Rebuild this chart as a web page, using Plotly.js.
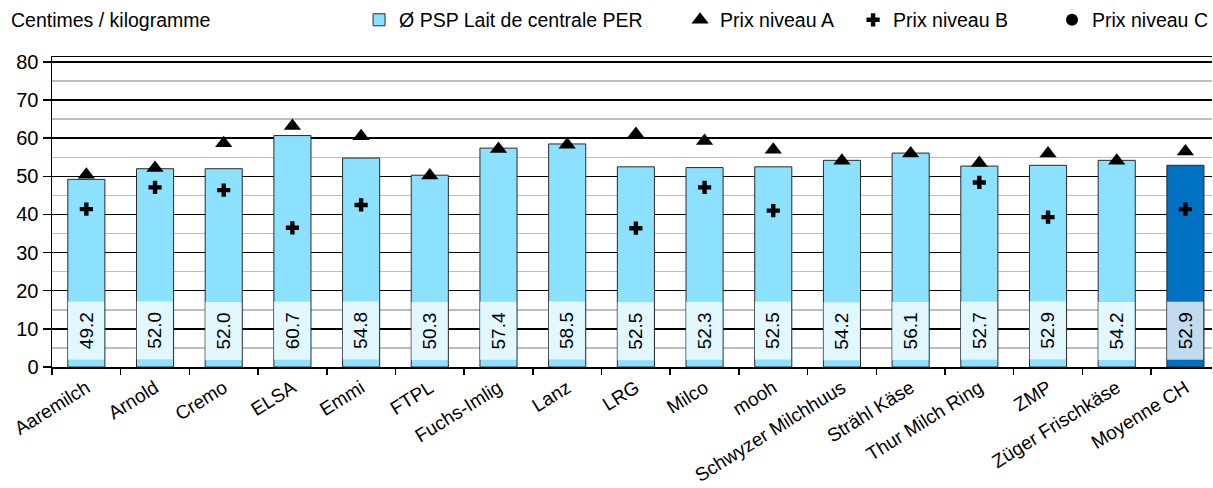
<!DOCTYPE html>
<html>
<head>
<meta charset="utf-8">
<script src="https://cdn.plot.ly/plotly-3.0.1.min.js"></script>
<style>html,body{margin:0;padding:0;background:#fff;}#chart{width:1213px;height:488px;}</style>
</head>
<body>
<div id="chart"></div>
<script>
const categories = ['Aaremilch','Arnold','Cremo','ELSA','Emmi','FTPL','Fuchs-Imlig','Lanz','LRG','Milco','mooh','Schwyzer Milchhuus','Strähl Käse','Thur Milch Ring','ZMP','Züger Frischkäse','Moyenne CH'];
const pspValues = [49.2,52.0,52.0,60.7,54.8,50.3,57.4,58.5,52.5,52.3,52.5,54.2,56.1,52.7,52.9,54.2,52.9];
const prixA = [50.4,52.2,58.7,63.2,60.5,50.2,57.2,58.3,61.1,59.3,57.0,54.1,56.0,53.5,56.0,54.1,56.5];
const prixB = [41.4,47.1,46.4,36.5,42.5,null,null,null,36.4,47.1,41.0,null,null,48.4,39.3,null,41.4];
const prixC = [null,null,null,null,null,null,null,null,null,null,null,null,null,null,null,null,null];
const seriesNames = ['Ø PSP Lait de centrale PER','Prix niveau A','Prix niveau B','Prix niveau C'];
const yTitle = 'Centimes / kilogramme';

const FONT = '"Liberation Sans", Arial, sans-serif';
const isAvg = c => c === 'Moyenne CH';
const barColors = categories.map(c => isAvg(c) ? '#0070C0' : '#8CE1FF');
const boxColors = categories.map(c => isAvg(c) ? '#C3DBEE' : '#E3F7FF');

const traces = [
  {type:'bar', x:categories, y:pspValues, name:seriesNames[0], width:0.54,
   marker:{color:barColors, line:{color:'#2a2a2a', width:1}}, legend:'legend'},
  {type:'scatter', mode:'markers', x:categories, y:prixA, name:seriesNames[1],
   marker:{symbol:'triangle-up', size:15, color:'#000'}, legend:'legend2'},
  {type:'scatter', mode:'markers', x:categories, y:prixB, name:seriesNames[2],
   marker:{symbol:'cross', size:11, color:'#000'}, legend:'legend3'},
  {type:'scatter', mode:'markers', x:categories, y:prixC, name:seriesNames[3],
   marker:{symbol:'circle', size:12, color:'#000'}, legend:'legend4', showlegend:true}
];

const annotations = categories.map((c,i) => ({
  x:c, y:9.5, xref:'x', yref:'y', text:pspValues[i].toFixed(1), showarrow:false,
  textangle:-90, bgcolor:boxColors[i], width:57, height:35, borderpad:0,
  font:{family:FONT, size:19, color:'#000'}
}));
annotations.push({xref:'paper', yref:'paper', x:(9-52)/1161, y:1.119, xanchor:'left', yanchor:'middle',
  text:yTitle, showarrow:false, font:{family:FONT, size:19.5, color:'#000'}});

const legBase = {orientation:'h', yanchor:'middle', y:1.119, xanchor:'left', bgcolor:'rgba(0,0,0,0)',
  font:{family:FONT, size:19.5, color:'#000'}, borderwidth:0};

const layout = {
  width:1213, height:488,
  margin:{l:52, r:0, t:57, b:121},
  paper_bgcolor:'#fff', plot_bgcolor:'#fff',
  font:{family:FONT, size:19, color:'#000'},
  barmode:'overlay',
  hovermode:false,
  xaxis:{type:'category', range:[-0.5, 16.387], showline:true, linecolor:'#000', linewidth:1.5, mirror:true,
    ticks:'outside', tickson:'boundaries', ticklen:6, tickcolor:'#000', tickwidth:1.5,
    tickangle:-32, ticklabelstandoff:1,
    showgrid:false, tickfont:{family:FONT, size:19, color:'#000'}},
  yaxis:{range:[0,81.3], dtick:10, tick0:0, showline:true, linecolor:'#000', linewidth:1.5,
    ticks:'outside', ticklen:8, tickcolor:'#000', tickwidth:1.5,
    showgrid:true, gridcolor:'#000', gridwidth:1.5, zeroline:false,
    minor:{dtick:5, showgrid:true, gridcolor:'#BDBDBD', gridwidth:1.5, ticks:''},
    tickfont:{family:FONT, size:20, color:'#000'}},
  showlegend:true,
  legend:Object.assign({}, legBase, {x:0.2645}),
  legend2:Object.assign({}, legBase, {x:0.5410}),
  legend3:Object.assign({}, legBase, {x:0.6900}),
  legend4:Object.assign({}, legBase, {x:0.8623}),
  annotations:annotations
};

Plotly.newPlot('chart', traces, layout, {displayModeBar:false, staticPlot:true});
</script>
</body>
</html>
